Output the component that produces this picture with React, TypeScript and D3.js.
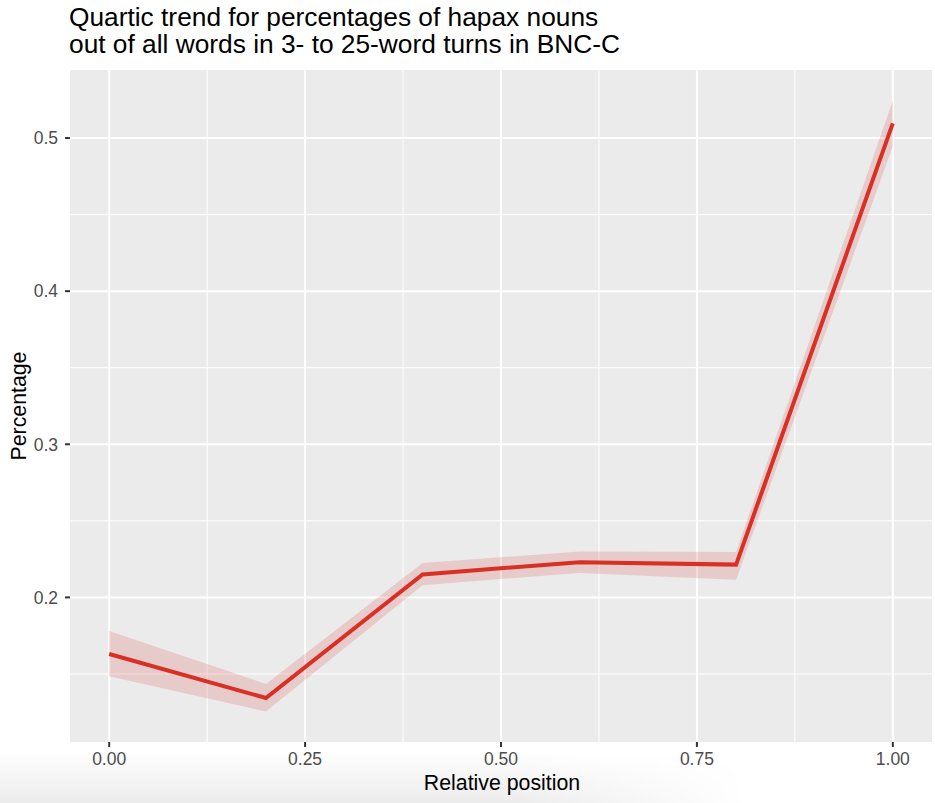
import React from 'react';
import * as d3 from 'd3';

// values
const positions = [0, 0.2, 0.4, 0.6, 0.8, 1.0];
const percentages = [0.163, 0.1343, 0.2150, 0.2230, 0.2214, 0.5096];
const lowerBand = [0.1485, 0.1255, 0.2080, 0.2160, 0.2116, 0.4947];
const upperBand = [0.1780, 0.1435, 0.2225, 0.2300, 0.2297, 0.5245];

const xTicks = [0, 0.25, 0.5, 0.75, 1.0];
const xTickLabels = ['0.00', '0.25', '0.50', '0.75', '1.00'];
const yTicks = [0.2, 0.3, 0.4, 0.5];
const yTickLabels = ['0.2', '0.3', '0.4', '0.5'];

const titleLines = [
  'Quartic trend for percentages of hapax nouns',
  'out of all words in 3- to 25-word turns in BNC-C',
];

const W = 935;
const H = 803;
const panel = { left: 70, right: 932, top: 70, bottom: 742 };
const FONT = '"Liberation Sans", Arial, Helvetica, sans-serif';

export default function App() {
  const rows = positions.map((p, i) => ({
    x: p, y: percentages[i], lo: lowerBand[i], hi: upperBand[i],
  }));

  // ggplot-style 5% expansion
  const xExt = d3.extent(positions) as [number, number];
  const xPad = (xExt[1] - xExt[0]) * 0.05;
  const x = d3.scaleLinear()
    .domain([xExt[0] - xPad, xExt[1] + xPad])
    .range([panel.left, panel.right]);

  const yMin = d3.min(lowerBand) as number;
  const yMax = d3.max(upperBand) as number;
  const yPad = (yMax - yMin) * 0.05;
  const y = d3.scaleLinear()
    .domain([yMin - yPad, yMax + yPad])
    .range([panel.bottom, panel.top]);

  const xMinor = xTicks.slice(1).map((t, i) => (t + xTicks[i]) / 2);
  const yBreaks = [yTicks[0] - 0.1, ...yTicks];
  const yMinor = yBreaks.slice(1).map((t, i) => (t + yBreaks[i]) / 2)
    .filter(v => v > y.domain()[0] && v < y.domain()[1]);

  const area = d3.area<typeof rows[0]>()
    .x(d => x(d.x))
    .y0(d => y(d.lo))
    .y1(d => y(d.hi));
  const line = d3.line<typeof rows[0]>()
    .x(d => x(d.x))
    .y(d => y(d.y));

  const midX = (panel.left + panel.right) / 2;
  const midY = (panel.top + panel.bottom) / 2;

  return (
    <svg width={W} height={H} style={{ position: 'absolute', left: 0, top: 0 }} fontFamily={FONT}>
      <defs>
        <linearGradient id="fade" x1="0" y1="0" x2="0" y2="1">
          <stop offset="0" stopColor="#ffffff" />
          <stop offset="1" stopColor="#ececec" />
        </linearGradient>
        <linearGradient id="fadeMask" x1="0" y1="0" x2="1" y2="0">
          <stop offset="0.55" stopColor="#fff" stopOpacity="1" />
          <stop offset="0.8" stopColor="#fff" stopOpacity="0" />
        </linearGradient>
        <mask id="m">
          <rect x={0} y={752} width={W} height={H - 752} fill="url(#fadeMask)" />
        </mask>
        <clipPath id="clip">
          <rect x={panel.left} y={panel.top} width={panel.right - panel.left} height={panel.bottom - panel.top} />
        </clipPath>
      </defs>
      <rect width={W} height={H} fill="#ffffff" />
      <rect x={0} y={752} width={W} height={H - 752} fill="url(#fade)" mask="url(#m)" />

      {/* title */}
      {titleLines.map((t, i) => (
        <text key={i} x={panel.left - 1} y={26 + i * 27} fontSize={26.3} fill="#000">{t}</text>
      ))}

      {/* panel */}
      <rect x={panel.left} y={panel.top} width={panel.right - panel.left} height={panel.bottom - panel.top} fill="#ebebeb" />
      {xMinor.map(v => (
        <line key={'xm' + v} x1={x(v)} x2={x(v)} y1={panel.top} y2={panel.bottom} stroke="#fff" strokeWidth={1} />
      ))}
      {yMinor.map(v => (
        <line key={'ym' + v} x1={panel.left} x2={panel.right} y1={y(v)} y2={y(v)} stroke="#fff" strokeWidth={1} />
      ))}
      {xTicks.map(v => (
        <line key={'xg' + v} x1={x(v)} x2={x(v)} y1={panel.top} y2={panel.bottom} stroke="#fff" strokeWidth={2} />
      ))}
      {yTicks.map(v => (
        <line key={'yg' + v} x1={panel.left} x2={panel.right} y1={y(v)} y2={y(v)} stroke="#fff" strokeWidth={2} />
      ))}

      <g clipPath="url(#clip)">
        <path d={area(rows) ?? ''} fill="#d73027" fillOpacity={0.17} />
        <path d={line(rows) ?? ''} fill="none" stroke="#d93025" strokeWidth={4} strokeLinejoin="miter" />
      </g>

      {/* axes */}
      {xTicks.map((v, i) => (
        <g key={'xt' + v}>
          <line x1={x(v)} x2={x(v)} y1={panel.bottom} y2={panel.bottom + 5} stroke="#333" strokeWidth={2} />
          <text x={x(v)} y={765} textAnchor="middle" fontSize={17.5} fill="#4d4d4d">{xTickLabels[i]}</text>
        </g>
      ))}
      {yTicks.map((v, i) => (
        <g key={'yt' + v}>
          <line x1={panel.left - 5} x2={panel.left} y1={y(v)} y2={y(v)} stroke="#333" strokeWidth={2} />
          <text x={58} y={y(v)} dy="0.36em" textAnchor="end" fontSize={17.5} fill="#4d4d4d">{yTickLabels[i]}</text>
        </g>
      ))}

      <text x={midX + 1} y={790} textAnchor="middle" fontSize={21.3} fill="#000">Relative position</text>
      <text transform={`translate(26,${midY}) rotate(-90)`} textAnchor="middle" fontSize={21.3} fill="#000">Percentage</text>
    </svg>
  );
}
